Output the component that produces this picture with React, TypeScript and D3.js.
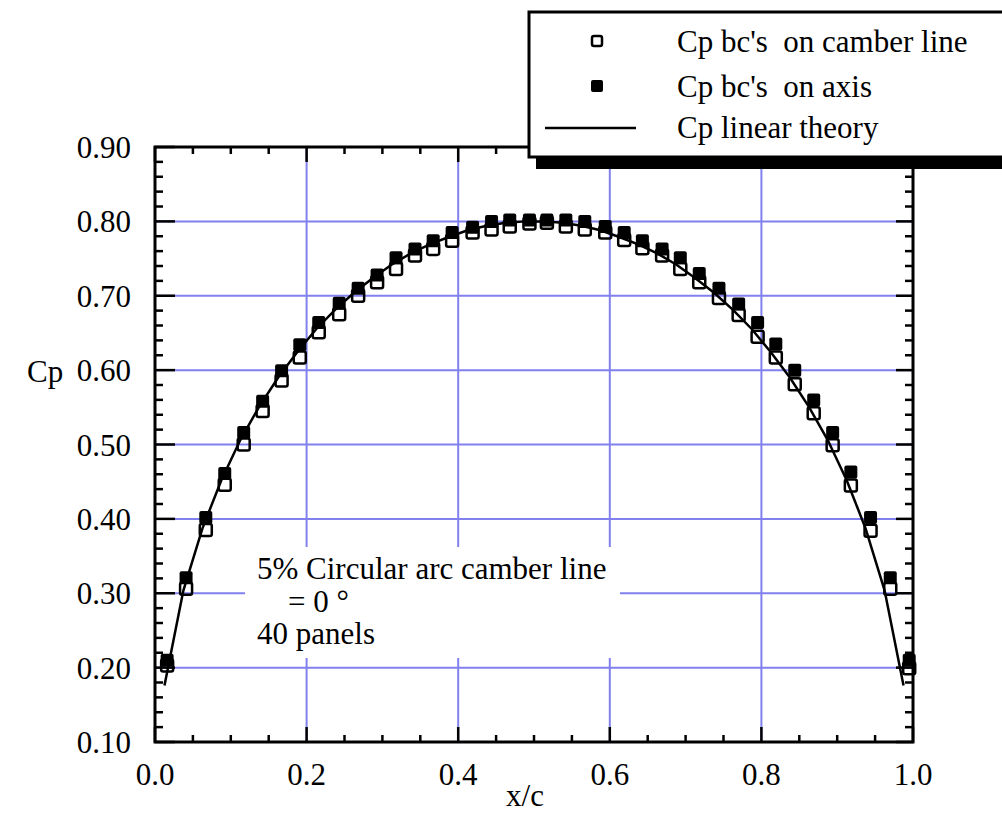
import React from "react";
import * as d3 from "d3";

// Control-point positions (x/c)
const X_POS = [0.016, 0.041, 0.067, 0.092, 0.117, 0.142, 0.167, 0.191, 0.216, 0.243,
  0.268, 0.293, 0.318, 0.343, 0.367, 0.392, 0.419, 0.444, 0.468, 0.494,
  0.517, 0.542, 0.567, 0.594, 0.619, 0.643, 0.669, 0.693, 0.718, 0.744,
  0.770, 0.795, 0.819, 0.844, 0.869, 0.894, 0.918, 0.944, 0.970, 0.995];

// Cp bc's on camber line (open squares)
const CP_CAMBER = [0.203, 0.306, 0.385, 0.446, 0.500, 0.545, 0.586, 0.617, 0.651, 0.675,
  0.700, 0.718, 0.736, 0.754, 0.763, 0.774, 0.785, 0.789, 0.793, 0.797,
  0.798, 0.793, 0.789, 0.785, 0.775, 0.764, 0.754, 0.736, 0.718, 0.697,
  0.674, 0.645, 0.617, 0.581, 0.542, 0.499, 0.445, 0.384, 0.306, 0.199];

// Cp bc's on axis (filled squares)
const CP_AXIS = [0.210, 0.321, 0.402, 0.461, 0.516, 0.558, 0.599, 0.634, 0.664, 0.690,
  0.710, 0.728, 0.751, 0.763, 0.774, 0.785, 0.792, 0.800, 0.802, 0.802,
  0.802, 0.802, 0.800, 0.793, 0.785, 0.774, 0.763, 0.751, 0.730, 0.710,
  0.689, 0.664, 0.635, 0.600, 0.560, 0.516, 0.463, 0.402, 0.321, 0.210];

// Linear theory line
const THEORY_X = [0.0125, 0.0375, 0.0625, 0.0875, 0.1125, 0.1375, 0.1625, 0.1875, 0.2125, 0.2375,
  0.2625, 0.2875, 0.3125, 0.3375, 0.3625, 0.3875, 0.4125, 0.4375, 0.4625, 0.4875,
  0.5125, 0.5375, 0.5625, 0.5875, 0.6125, 0.6375, 0.6625, 0.6875, 0.7125, 0.7375,
  0.7625, 0.7875, 0.8125, 0.8375, 0.8625, 0.8875, 0.9125, 0.9375, 0.9625, 0.9875];
const THEORY_CP = [0.176, 0.304, 0.387, 0.452, 0.506, 0.551, 0.590, 0.624, 0.655, 0.681,
  0.704, 0.724, 0.742, 0.757, 0.769, 0.779, 0.788, 0.794, 0.798, 0.800,
  0.800, 0.798, 0.794, 0.788, 0.779, 0.769, 0.757, 0.742, 0.724, 0.704,
  0.681, 0.655, 0.624, 0.590, 0.551, 0.506, 0.452, 0.387, 0.304, 0.176];

const X_TICKS = [0, 0.2, 0.4, 0.6, 0.8, 1.0];
const Y_TICKS = [0.1, 0.2, 0.3, 0.4, 0.5, 0.6, 0.7, 0.8, 0.9];

const LEGEND = ["Cp bc's  on camber line", "Cp bc's  on axis", "Cp linear theory"];
const NOTE = ["5% Circular arc camber line", "    = 0 \u00b0", "40 panels"];

const FONT = "'Liberation Serif', 'Times New Roman', serif";
const GRID = "#8080ee";
const FS = 31;

export default function App() {
  const L = 155, R = 913, T = 147, B = 742;
  const x = d3.scaleLinear().domain([0, 1]).range([L, R]);
  const y = d3.scaleLinear().domain([0.1, 0.9]).range([B, T]);
  const xMinor = d3.range(0, 21).map((i) => i * 0.05);
  const yMinor = d3.range(0, 41).map((i) => 0.1 + i * 0.02);
  const line = d3.line<number>().x((_, i) => x(THEORY_X[i])).y((d) => y(d));
  const isMajorY = (v: number) => Math.abs(v * 10 - Math.round(v * 10)) < 1e-6;
  const isMajorX = (v: number) => Math.abs(v * 5 - Math.round(v * 5)) < 1e-6;
  const s = 12;

  return (
    <svg width={1002} height={815} style={{ position: "absolute", left: 0, top: 0, background: "#fff" }} fontFamily={FONT}>
      {/* grid */}
      {Y_TICKS.slice(1, -1).map((v) => (
        <line key={"gy" + v} x1={L} x2={R} y1={y(v)} y2={y(v)} stroke={GRID} strokeWidth={2} />
      ))}
      {X_TICKS.slice(1, -1).map((v) => (
        <line key={"gx" + v} x1={x(v)} x2={x(v)} y1={T} y2={B} stroke={GRID} strokeWidth={2} />
      ))}
      {/* annotation box */}
      <rect x={245} y={547} width={375} height={111} fill="#fff" />
      <g fontSize={FS} fill="#000" style={{ whiteSpace: "pre" }}>
        {NOTE.map((t, i) => (
          <text key={t} x={257} y={[579, 612, 644][i]} xmlSpace="preserve">{t}</text>
        ))}
      </g>
      {/* ticks */}
      {yMinor.map((v) => {
        const len = isMajorY(v) ? 20 : 8;
        const lenR = isMajorY(v) ? 17 : 8;
        return (
          <g key={"ty" + v.toFixed(2)}>
            <line x1={L} x2={L + len} y1={y(v)} y2={y(v)} stroke="#000" strokeWidth={2.5} />
            <line x1={R - lenR} x2={R} y1={y(v)} y2={y(v)} stroke="#000" strokeWidth={2.5} />
          </g>
        );
      })}
      {xMinor.map((v) => {
        const len = isMajorX(v) ? 15 : 7;
        return (
          <g key={"tx" + v.toFixed(2)}>
            <line x1={x(v)} x2={x(v)} y1={B} y2={B - len} stroke="#000" strokeWidth={2.5} />
            <line x1={x(v)} x2={x(v)} y1={T} y2={T + len} stroke="#000" strokeWidth={2.5} />
          </g>
        );
      })}
      {/* frame */}
      <rect x={L} y={T} width={R - L} height={B - T} fill="none" stroke="#000" strokeWidth={3} />
      {/* tick labels */}
      <g fontSize={FS} fill="#000">
        {Y_TICKS.map((v) => (
          <text key={"ly" + v} x={131} y={y(v) + 11} textAnchor="end">{v.toFixed(2)}</text>
        ))}
        {X_TICKS.map((v) => (
          <text key={"lx" + v} x={x(v)} y={785} textAnchor="middle">{v.toFixed(1)}</text>
        ))}
        <text x={525} y={806} textAnchor="middle">x/c</text>
        <text x={27} y={382}>Cp</text>
      </g>
      {/* data */}
      {X_POS.map((xv, i) => (
        <rect key={"o" + i} x={x(xv) - s / 2} y={y(CP_CAMBER[i]) - s / 2} width={s} height={s} rx={2}
          fill="none" stroke="#000" strokeWidth={2.5} />
      ))}
      <path d={line(THEORY_CP) || ""} fill="none" stroke="#000" strokeWidth={2.5} />
      {X_POS.map((xv, i) => (
        <rect key={"f" + i} x={x(xv) - (s + 1) / 2} y={y(CP_AXIS[i]) - (s + 1) / 2} width={s + 1} height={s + 1} rx={2}
          fill="#000" />
      ))}
      {/* legend */}
      <rect x={536} y={24} width={480} height={145} fill="#000" />
      <rect x={529} y={12} width={480} height={145} fill="#fff" stroke="#000" strokeWidth={3} />
      <rect x={592} y={36} width={10} height={10} rx={2} fill="#fff" stroke="#000" strokeWidth={2.5} />
      <rect x={591} y={80} width={12} height={12} rx={2} fill="#000" />
      <line x1={545} x2={636} y1={128} y2={128} stroke="#000" strokeWidth={2.5} />
      <g fontSize={FS} fill="#000">
        {LEGEND.map((t, i) => (
          <text key={t} x={677} y={[52, 97, 138][i]} xmlSpace="preserve" style={{ whiteSpace: "pre" }}>{t}</text>
        ))}
      </g>
    </svg>
  );
}
